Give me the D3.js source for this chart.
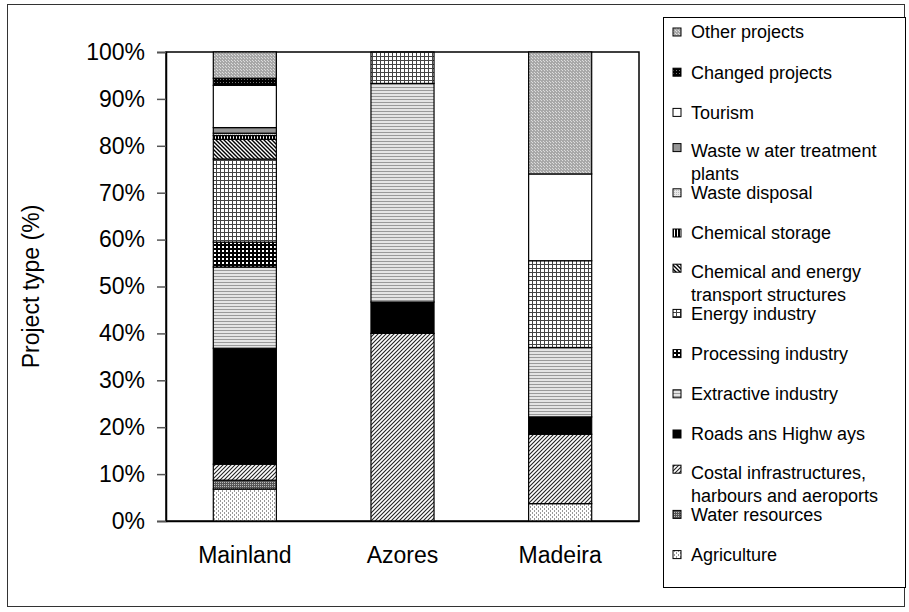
<!DOCTYPE html>
<html>
<head>
<meta charset="utf-8">
<script src="https://cdn.jsdelivr.net/npm/d3@7"></script>
<style>
    body { margin: 0; background: #fff; }
    text { font-family: "Liberation Sans", Arial, sans-serif; fill: #000; }
</style>
</head>
<body>
<div id="chart"></div>
<script>
// Project types per region (share of projects, %)

const regions = ['Mainland', 'Azores', 'Madeira'];

// stacking order, bottom to top
const projectTypes = [
    'Agriculture',
    'Water resources',
    'Costal infrastructures,\nharbours and aeroports',
    'Roads ans Highw ays',
    'Extractive industry',
    'Processing industry',
    'Energy industry',
    'Chemical and energy\ntransport structures',
    'Chemical storage',
    'Waste disposal',
    'Waste w ater treatment\nplants',
    'Tourism',
    'Changed projects',
    'Other projects'
];

const mainlandValues = [6.8, 1.9, 3.4, 24.7, 17.3, 5.3, 17.7, 4.2, 0.8, 0.5, 1.2, 9.0, 1.5, 5.6];
const azoresValues   = [0, 0, 40.0, 6.7, 46.6, 0, 6.7, 0, 0, 0, 0, 0, 0, 0];
const madeiraValues  = [3.7, 0, 14.8, 3.7, 14.8, 0, 18.5, 0, 0, 0, 0, 18.5, 0, 26.0];

const yTicks = [0, 10, 20, 30, 40, 50, 60, 70, 80, 90, 100];

const width = 909;
const height = 612;

const svg = d3.select('#chart')
    .append('svg')
    .attr('width', width)
    .attr('height', height);

// ---- fill patterns (Excel-like hatches) ----
const defs = svg.append('defs');

function pattern(id, size, bg, draw) {
    const p = defs.append('pattern')
        .attr('id', id)
        .attr('patternUnits', 'userSpaceOnUse')
        .attr('width', size)
        .attr('height', size);
    p.append('rect').attr('width', size).attr('height', size).attr('fill', bg);
    const g = p.append('g').attr('shape-rendering', 'crispEdges');
    draw(g);
    return p;
}

function dots(g, pts, color) {
    pts.forEach(([x, y]) => {
        g.append('rect').attr('x', x).attr('y', y).attr('width', 1).attr('height', 1).attr('fill', color);
    });
}

// agriculture: sparse light dots
pattern('p0', 4, '#fff', g => dots(g, [[0, 0], [0, 1], [2, 2], [2, 3]], '#999'));
// water resources: dark dotted
pattern('p1', 2, '#555', g => dots(g, [[0, 0]], '#bbb'));
// coastal: upward diagonal
pattern('p2', 4, '#fff', g => {
    g.append('path').attr('d', 'M-1,5 L5,-1 M-1,1 L1,-1 M3,5 L5,3').attr('stroke', '#222').attr('stroke-width', 1.1).attr('shape-rendering', 'auto');
});
// roads: solid black
pattern('p3', 4, '#000', g => {});
// extractive: grey horizontal stripes
pattern('p4', 3, '#e4e4e4', g => {
    g.append('rect').attr('x', 0).attr('y', 0).attr('width', 3).attr('height', 1).attr('fill', '#999');
});
// processing: dense grid
pattern('p5', 4, '#fff', g => {
    g.append('rect').attr('x', 0).attr('y', 0).attr('width', 4).attr('height', 1.5).attr('fill', '#000');
    g.append('rect').attr('x', 0).attr('y', 0).attr('width', 1.5).attr('height', 4).attr('fill', '#000');
});
// energy: open grid
pattern('p6', 4, '#fff', g => {
    g.append('rect').attr('x', 0).attr('y', 0).attr('width', 4).attr('height', 1).attr('fill', '#444');
    g.append('rect').attr('x', 0).attr('y', 0).attr('width', 1).attr('height', 4).attr('fill', '#444');
});
// chemical transport: downward diagonal
pattern('p7', 4, '#fff', g => {
    g.append('path').attr('d', 'M-1,-1 L5,5 M3,-1 L5,1 M-1,3 L1,5').attr('stroke', '#000').attr('stroke-width', 1.4).attr('shape-rendering', 'auto');
});
// chemical storage: vertical lines
pattern('p8', 3, '#fff', g => {
    g.append('rect').attr('x', 0).attr('y', 0).attr('width', 2).attr('height', 3).attr('fill', '#000');
});
// waste disposal: light grey
pattern('p9', 2, '#e8e8e8', g => dots(g, [[0, 0]], '#bbb'));
// waste water: medium grey
pattern('p10', 4, '#969696', g => {});
// tourism: white
pattern('p11', 4, '#fff', g => {});
// changed projects: black with dots
pattern('p12', 3, '#000', g => dots(g, [[1, 1]], '#777'));
// other projects: grey dotted
pattern('p13', 3, '#a8a8a8', g => dots(g, [[0, 0], [1, 1]], '#dcdcdc'));

// ---- chart frame ----
svg.append('rect')
    .attr('x', 7.5).attr('y', 4.5)
    .attr('width', 897).attr('height', 602)
    .attr('fill', 'none')
    .attr('stroke', '#333')
    .attr('stroke-width', 1);

// ---- scales ----
const plotLeft = 166, plotRight = 639, plotTop = 52, plotBottom = 521;

const x = d3.scaleBand()
    .domain(regions)
    .range([plotLeft, plotRight])
    .paddingInner(0.6)
    .paddingOuter(0.3);

const y = d3.scaleLinear()
    .domain([0, 100])
    .range([plotBottom, plotTop]);

// plot area border
svg.append('rect')
    .attr('x', plotLeft).attr('y', plotTop)
    .attr('width', plotRight - plotLeft).attr('height', plotBottom - plotTop)
    .attr('fill', 'none')
    .attr('stroke', '#000')
    .attr('stroke-width', 1.5);

// ---- stacked bars ----
const rows = regions.map((r, i) => {
    const vals = [mainlandValues, azoresValues, madeiraValues][i];
    const row = { region: r };
    projectTypes.forEach((t, j) => { row[t] = vals[j]; });
    return row;
});

const series = d3.stack()
    .keys(projectTypes)
    .offset(d3.stackOffsetExpand)(rows);

const layers = svg.append('g')
    .selectAll('g')
    .data(series)
    .join('g')
    .attr('fill', (d, i) => `url(#p${i})`);

layers.selectAll('rect')
    .data(d => d.filter(s => s[1] - s[0] > 0))
    .join('rect')
    .attr('x', d => x(d.data.region))
    .attr('width', x.bandwidth())
    .attr('y', d => y(d[1] * 100))
    .attr('height', d => y(d[0] * 100) - y(d[1] * 100))
    .attr('stroke', '#000')
    .attr('stroke-width', 1.2);

// ---- axes ----
const yAxis = svg.append('g')
    .attr('transform', `translate(${plotLeft},0)`)
    .call(d3.axisLeft(y)
        .tickValues(yTicks)
        .tickFormat(d => d + '%')
        .tickSize(9)
        .tickPadding(12));

yAxis.select('.domain').attr('stroke', '#000').attr('stroke-width', 1.5);
yAxis.selectAll('.tick line').attr('stroke', '#555').attr('stroke-width', 1.5);
yAxis.selectAll('.tick text')
    .style('font-size', '23px')
    .style('font-family', '"Liberation Sans", Arial, sans-serif');

const xAxis = svg.append('g')
    .attr('transform', `translate(0,${plotBottom})`)
    .call(d3.axisBottom(x).tickSize(0).tickPadding(26));

xAxis.select('.domain').attr('stroke', '#000').attr('stroke-width', 1.5);
xAxis.selectAll('.tick text')
    .attr('dy', '0.71em')
    .style('font-size', '23px')
    .style('font-family', '"Liberation Sans", Arial, sans-serif');

// y axis title
svg.append('text')
    .attr('transform', `translate(31,${(plotTop + plotBottom) / 2}) rotate(-90)`)
    .attr('text-anchor', 'middle')
    .attr('dy', '0.35em')
    .style('font-size', '23px')
    .text('Project type (%)');

// ---- legend ----
const legendX = 663, legendY = 17, legendW = 242, legendH = 570;

svg.append('rect')
    .attr('x', legendX + 0.5).attr('y', legendY + 0.5)
    .attr('width', legendW).attr('height', legendH)
    .attr('fill', '#fff')
    .attr('stroke', '#000')
    .attr('stroke-width', 1);

const legendItems = projectTypes.map((t, i) => ({ label: t, idx: i })).reverse();
const itemStep = 40.2;

const legend = svg.append('g');

legendItems.forEach((item, k) => {
    const lines = item.label.split('\n');
    const twoLine = lines.length > 1;
    const cy = 32 + k * itemStep - (twoLine ? 5 : 0);

    legend.append('rect')
        .attr('x', 673).attr('y', cy - 4)
        .attr('width', 8).attr('height', 8)
        .attr('fill', `url(#p${item.idx})`)
        .attr('stroke', '#000')
        .attr('stroke-width', 1);

    const t = legend.append('text')
        .attr('x', 691)
        .attr('y', cy + (twoLine ? 3 : 0))
        .style('font-size', '18px');
    lines.forEach((line, li) => {
        t.append('tspan')
            .attr('x', 691)
            .attr('dy', li === 0 ? '0.35em' : '23px')
            .text(line);
    });
});
</script>
</body>
</html>
